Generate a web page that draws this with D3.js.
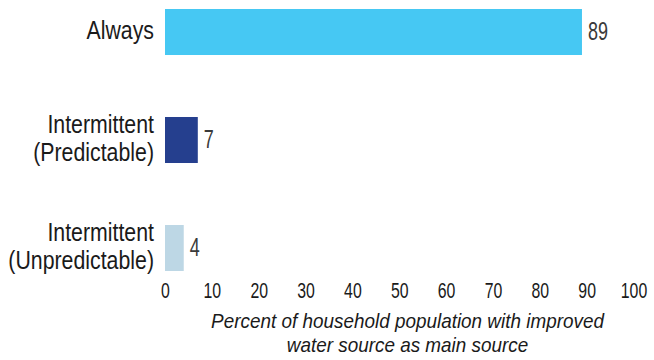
<!DOCTYPE html>
<html>
<head>
<meta charset="utf-8">
<script src="https://cdn.jsdelivr.net/npm/d3@7"></script>
<style>
  html, body { margin: 0; padding: 0; background: #fff; }
  svg { display: block; }
  text { font-family: "Liberation Sans", Arial, sans-serif; }
  .cat { font-size: 26px; fill: #1a1a1a; }
  .tick text { font-size: 22px; fill: #1a1a1a; }
  .val { font-size: 25px; fill: #3a3a3a; }
  .title { font-size: 21px; font-style: italic; fill: #1a1a1a; }
</style>
</head>
<body>
<svg id="chart" width="654" height="360"></svg>
<script>
// Water source availability categories and their shares (%)
const categories = [
  ["Always"],
  ["Intermittent", "(Predictable)"],
  ["Intermittent", "(Unpredictable)"]
];
const values = [89, 7, 4];
const colors = ["#46C8F3", "#253F8E", "#BDD7E5"];
const tickValues = [0, 10, 20, 30, 40, 50, 60, 70, 80, 90, 100];
const axisTitle = ["Percent of household population with improved", "water source as main source"];

// Horizontal squeeze factors that give a condensed, gothic look
const squeezeText = 0.82, squeezeDigits = 0.72, squeezeTitle = 0.9;

const W = 654, H = 360;
const svg = d3.select("#chart");
const margin = { left: 165, right: 20.5, top: 9 };
const plotW = W - margin.left - margin.right;

const x = d3.scaleLinear().domain([0, 100]).range([0, plotW]);
const y = d3.scaleBand()
  .domain(d3.range(categories.length))
  .range([0, 262])
  .paddingInner(0.574)
  .paddingOuter(0);

const g = svg.append("g").attr("transform", `translate(${margin.left},${margin.top})`);

// Bars
g.selectAll("rect.bar")
  .data(values)
  .join("rect")
  .attr("class", "bar")
  .attr("x", 0)
  .attr("y", (d, i) => y(i))
  .attr("width", d => x(d))
  .attr("height", y.bandwidth())
  .attr("fill", (d, i) => colors[i]);

// Value labels
g.selectAll("g.val")
  .data(values)
  .join("g")
  .attr("transform", (d, i) => `translate(${x(d) + 6},${y(i) + y.bandwidth() / 2 + 8}) scale(${squeezeDigits},1)`)
  .append("text")
  .attr("class", "val")
  .text(d => d);

// Category labels (multi-line, right aligned)
const lh = 28;
g.selectAll("g.cat")
  .data(categories)
  .join("g")
  .attr("transform", (d, i) => `translate(-11,${y(i) + y.bandwidth() / 2}) scale(${squeezeText},1)`)
  .each(function (lines) {
    const t = d3.select(this).append("text")
      .attr("class", "cat")
      .attr("text-anchor", "end");
    const start = lines.length === 1 ? 7 : -7;
    lines.forEach((l, k) => {
      t.append("tspan")
        .attr("x", 0)
        .attr("y", start + k * lh)
        .text(l);
    });
  });

// X axis (labels only)
const axis = g.append("g")
  .attr("transform", `translate(0, 289)`)
  .call(d3.axisBottom(x).tickValues(tickValues).tickSize(0).tickPadding(0));
axis.select(".domain").remove();
axis.selectAll(".tick text")
  .attr("dy", null)
  .attr("y", 0)
  .attr("font-family", null).attr("font-size", null).attr("fill", null)
  .attr("transform", `scale(${squeezeDigits},1)`);

// Axis title, centred under the area to the right of the labels
const cx = (margin.left + W - 4) / 2 - margin.left;
const title = g.append("g")
  .attr("transform", `translate(${cx},319) scale(${squeezeTitle},1)`)
  .append("text")
  .attr("class", "title")
  .attr("text-anchor", "middle");
axisTitle.forEach((l, k) => {
  title.append("tspan").attr("x", 0).attr("y", k * 24).text(l);
});
</script>
</body>
</html>
